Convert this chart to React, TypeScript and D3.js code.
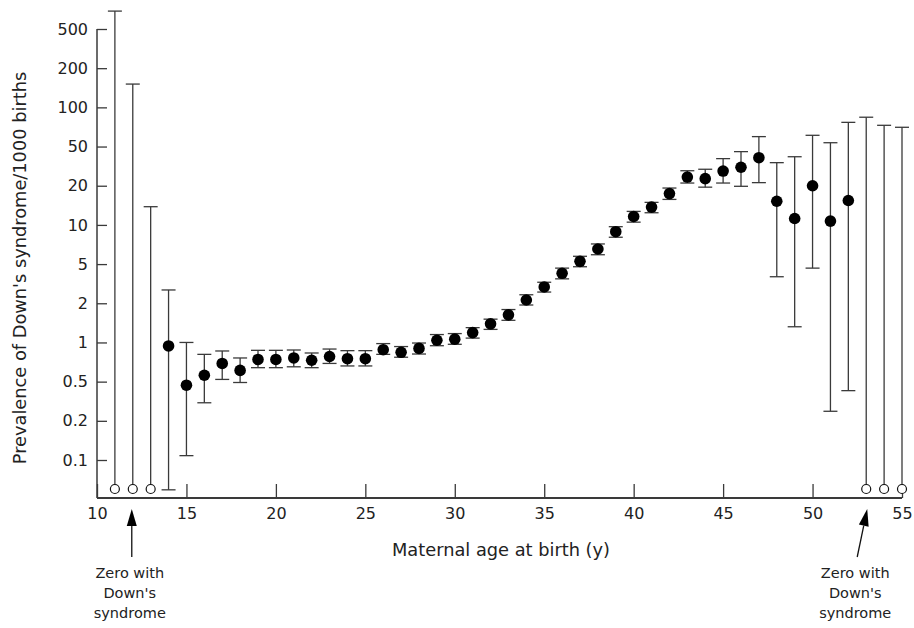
import React, { useEffect, useRef } from "react";
import * as d3 from "d3";

// maternal age (y) and prevalence of Down's syndrome per 1000 births
const ages = [
  11, 12, 13, 14, 15, 16, 17, 18, 19, 20, 21, 22, 23, 24, 25, 26, 27, 28, 29, 30, 31, 32, 33,
  34, 35, 36, 37, 38, 39, 40, 41, 42, 43, 44, 45, 46, 47, 48, 49, 50, 51, 52, 53, 54, 55,
];
const prevalence = [
  0, 0, 0, 0.94, 0.46, 0.56, 0.69, 0.61, 0.74, 0.74, 0.76, 0.73, 0.78, 0.75, 0.75, 0.88, 0.84,
  0.9, 1.04, 1.06, 1.19, 1.39, 1.63, 2.16, 2.93, 4.03, 5.25, 6.53, 8.87, 11.6, 13.7, 17.4, 24.5,
  23.6, 28.2, 30.8, 38.5, 15.2, 11.2, 20.0, 10.7, 15.4, 0, 0, 0,
];
const upperCI = [
  760, 151, 13.8, 2.73, 1.0, 0.81, 0.86, 0.76, 0.87, 0.87, 0.875, 0.83, 0.89, 0.865, 0.865,
  0.98, 0.93, 0.99, 1.15, 1.17, 1.3, 1.51, 1.79, 2.44, 3.27, 4.55, 5.74, 7.14, 9.69, 12.7, 14.9,
  19.2, 28.4, 29.4, 37.7, 44.4, 59.6, 34.3, 39.4, 61.0, 53.5, 76.7, 84.0, 72.8, 70.3,
];
const lowerCI = [
  null, null, null, 0.059, 0.108, 0.305, 0.52, 0.49, 0.64, 0.64, 0.65, 0.64, 0.69, 0.66, 0.66,
  0.81, 0.77, 0.815, 0.944, 0.968, 1.08, 1.26, 1.48, 1.94, 2.6, 3.54, 4.7, 5.9, 8.04, 10.5, 12.4,
  15.7, 21.3, 19.5, 21.3, 19.8, 21.5, 3.72, 1.32, 4.55, 0.25, 0.405, null, null, null,
];

const xTicks = [10, 15, 20, 25, 30, 35, 40, 45, 50, 55];
const yTicks = [0.1, 0.2, 0.5, 1, 2, 5, 10, 20, 50, 100, 200, 500];
const yTickLabels = ["0.1", "0.2", "0.5", "1", "2", "5", "10", "20", "50", "100", "200", "500"];

const zeroNotes = [
  { age: 12, dx: 0, lines: ["Zero with", "Down's", "syndrome"] },
  { age: 53, dx: -10, lines: ["Zero with", "Down's", "syndrome"] },
];

const width = 914;
const height = 628;
const left = 97;
const right = 902;
const top = 29;
const bottom = 498;
const font = "'DejaVu Sans', sans-serif";
const ink = "#222";
const lineCol = "#3a3a3a";

export default function App() {
  const xAxisRef = useRef(null);
  const yAxisRef = useRef(null);

  const x = d3.scaleLinear().domain([10, 55]).range([left, right]);
  // ticks are evenly spaced on the original chart (1, 2, 5 steps), so map log values piecewise
  const tickPos = d3.scalePoint().domain(yTicks.map(String)).range([460, top]);
  const yLog = d3
    .scaleLinear()
    .domain(yTicks.map(Math.log10))
    .range(yTicks.map((t) => tickPos(String(t))));
  const y = (v) => yLog(Math.log10(v));
  const zeroY = bottom - 9;

  useEffect(() => {
    const xa = d3
      .axisBottom(x)
      .tickValues(xTicks)
      .tickSizeInner(-14)
      .tickSizeOuter(0)
      .tickPadding(10)
      .tickFormat(d3.format("d"));
    const gx = d3.select(xAxisRef.current).call(xa);
    gx.select(".domain").remove();
    gx.selectAll("line").attr("stroke", lineCol).attr("stroke-width", 1.3);
    gx.selectAll("text").attr("fill", ink).style("font-size", "16px").style("font-family", font);

    const ya = d3
      .axisLeft(yLog)
      .tickValues(yTicks.map(Math.log10))
      .tickSizeInner(-10)
      .tickSizeOuter(0)
      .tickPadding(9)
      .tickFormat((d, i) => yTickLabels[i]);
    const gy = d3.select(yAxisRef.current).call(ya);
    gy.select(".domain").remove();
    gy.selectAll("line").attr("stroke", lineCol).attr("stroke-width", 1.3);
    gy.selectAll("text").attr("fill", ink).style("font-size", "16px").style("font-family", font);
  }, []);

  const cap = 7;

  return (
    <svg
      width={width}
      height={height}
      style={{ position: "absolute", left: 0, top: 0, background: "#fff" }}
    >
      <g ref={xAxisRef} transform={`translate(0,${bottom})`} />
      <g ref={yAxisRef} transform={`translate(${left},0)`} />
      <line x1={left} x2={left} y1={y(500)} y2={bottom} stroke={lineCol} strokeWidth={1.5} />
      <line x1={left} x2={x(55)} y1={bottom} y2={bottom} stroke={lineCol} strokeWidth={2} />

      {ages.map((a, i) => {
        const cx = x(a);
        const isZero = prevalence[i] === 0;
        const yTop = y(upperCI[i]);
        const yBot = lowerCI[i] == null ? zeroY - 4.5 : y(lowerCI[i]);
        return (
          <g key={a}>
            <line x1={cx} x2={cx} y1={yTop} y2={yBot} stroke={lineCol} strokeWidth={1.3} />
            <line x1={cx - cap} x2={cx + cap} y1={yTop} y2={yTop} stroke={lineCol} strokeWidth={1.3} />
            {lowerCI[i] != null && (
              <line x1={cx - cap} x2={cx + cap} y1={yBot} y2={yBot} stroke={lineCol} strokeWidth={1.3} />
            )}
            {isZero ? (
              <circle cx={cx} cy={zeroY} r={4.5} fill="#fff" stroke="#111" strokeWidth={1.2} />
            ) : (
              <circle cx={cx} cy={y(prevalence[i])} r={5.8} fill="#000" />
            )}
          </g>
        );
      })}

      {zeroNotes.map((n) => {
        const tipX = x(n.age) + (n.dx ? 1 : -1);
        const tailX = tipX + n.dx;
        const tipY = 509;
        const tailY = 557;
        const ang = Math.atan2(tipY - tailY, tipX - tailX);
        const len = 17;
        const hw = 5;
        const bx = tipX - len * Math.cos(ang);
        const by = tipY - len * Math.sin(ang);
        const px = -Math.sin(ang) * hw;
        const py = Math.cos(ang) * hw;
        return (
          <g key={n.age}>
            <line x1={tailX} y1={tailY} x2={bx} y2={by} stroke="#111" strokeWidth={1.3} />
            <path
              d={`M${tipX},${tipY}L${bx + px},${by + py}L${bx - px},${by - py}Z`}
              fill="#000"
            />
            {n.lines.map((t, j) => (
              <text
                key={j}
                x={tailX - 2}
                y={578 + j * 20}
                textAnchor="middle"
                fontFamily={font}
                fontSize={14.5}
                fill={ink}
              >
                {t}
              </text>
            ))}
          </g>
        );
      })}

      <text
        x={501}
        y={556}
        textAnchor="middle"
        fontFamily={font}
        fontSize={17.8}
        fill={ink}
      >
        Maternal age at birth (y)
      </text>
      <text
        transform={`translate(26,268) rotate(-90)`}
        textAnchor="middle"
        fontFamily={font}
        fontSize={17.8}
        fill={ink}
      >
        Prevalence of Down's syndrome/1000 births
      </text>
    </svg>
  );
}
